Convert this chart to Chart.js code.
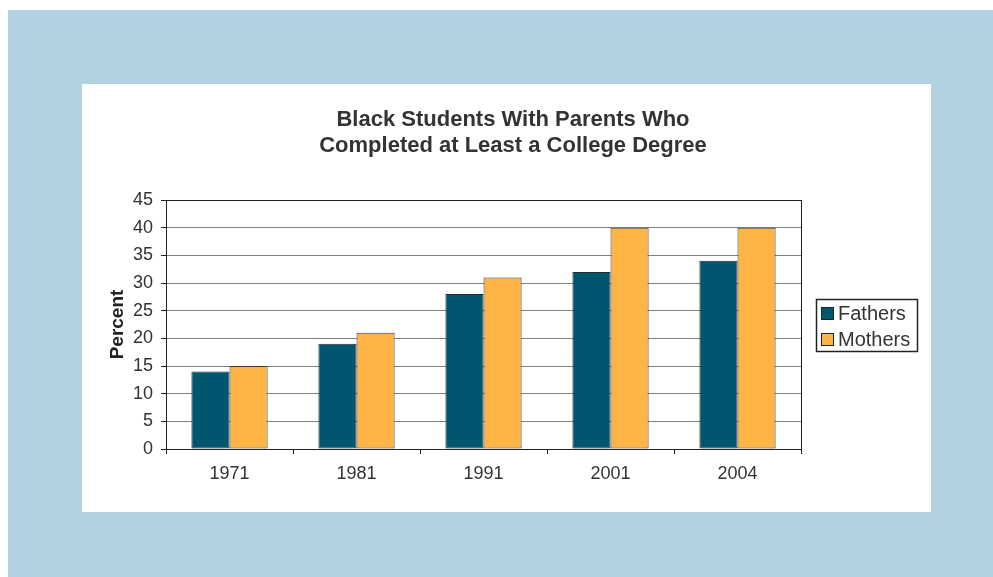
<!DOCTYPE html>
<html>
<head>
<meta charset="utf-8">
<script src="https://cdn.jsdelivr.net/npm/chart.js@4/dist/chart.umd.min.js"></script>
<style>
  html, body { margin: 0; padding: 0; background: #ffffff; }
  canvas { display: block; }
</style>
</head>
<body>
<canvas id="c" width="993" height="577"></canvas>
<script>
// ---- Data ----
const categories = ['1971', '1981', '1991', '2001', '2004'];
const fathers = [14, 19, 28, 32, 34];
const mothers = [15, 21, 31, 40, 40];
const seriesNames = ['Fathers', 'Mothers'];
const titleLines = ['Black Students With Parents Who', 'Completed at Least a College Degree'];
const yAxisTitle = 'Percent';

// ---- Styles ----
const FONT = "'Liberation Sans', Arial, Helvetica, sans-serif";
const colFathers = '#00566e';
const colMothers = '#ffb446';
const bgBlue = '#b2d2e2';

const backgroundPlugin = {
  id: 'bg',
  beforeDraw(chart) {
    const ctx = chart.ctx;
    ctx.save();
    ctx.fillStyle = '#ffffff';
    ctx.fillRect(0, 0, chart.width, chart.height);
    ctx.fillStyle = bgBlue;
    ctx.fillRect(8, 10, chart.width - 8, chart.height - 10);
    ctx.fillStyle = '#ffffff';
    ctx.fillRect(82, 84, 849, 428);
    // centred two-line title over the white panel
    ctx.fillStyle = '#333333';
    ctx.font = 'bold 22px ' + FONT;
    ctx.textAlign = 'center';
    ctx.textBaseline = 'alphabetic';
    titleLines.forEach((t, i) => ctx.fillText(t, 513, 126 + i * 26));
    ctx.restore();
  }
};

const frameAndLegendPlugin = {
  id: 'frameLegend',
  afterDatasetsDraw(chart) {
    const ctx = chart.ctx;
    const a = chart.chartArea;
    ctx.save();
    // plot-area frame
    ctx.strokeStyle = '#222222';
    ctx.lineWidth = 1;
    ctx.strokeRect(Math.round(a.left) + 0.5, Math.round(a.top) + 0.5,
                   Math.round(a.right - a.left), Math.round(a.bottom - a.top));
    // legend
    const ds = chart.data.datasets;
    const lx = Math.round(a.right) + 15;
    const rowH = 26;
    const boxW = 101, boxH = 52;
    const cy = (a.top + a.bottom) / 2;
    const ly = Math.round(cy - boxH / 2);
    ctx.lineWidth = 1.5;
    ctx.strokeStyle = '#222222';
    ctx.strokeRect(lx + 0.5, ly + 0.5, boxW, boxH);
    ctx.font = '20px ' + FONT;
    ctx.textBaseline = 'middle';
    ctx.textAlign = 'left';
    ds.forEach((d, i) => {
      const sy = ly + 8 + i * rowH;
      ctx.fillStyle = d.backgroundColor;
      ctx.fillRect(lx + 5, sy, 13, 13);
      ctx.lineWidth = 1;
      ctx.strokeStyle = '#222222';
      ctx.strokeRect(lx + 5.5, sy + 0.5, 12, 12);
      ctx.fillStyle = '#333333';
      ctx.fillText(d.label, lx + 22, sy + 7);
    });
    ctx.restore();
  }
};

new Chart(document.getElementById('c'), {
  type: 'bar',
  data: {
    labels: categories,
    datasets: [
      { label: seriesNames[0], data: fathers, backgroundColor: colFathers,
        borderColor: '#2a2a2a', borderWidth: 1, borderSkipped: false },
      { label: seriesNames[1], data: mothers, backgroundColor: colMothers,
        borderColor: '#3a3a3a', borderWidth: 1, borderSkipped: false }
    ]
  },
  options: {
    responsive: false,
    animation: false,
    devicePixelRatio: 1,
    layout: { padding: { left: 102, right: 192, top: 200, bottom: 88 } },
    datasets: { bar: { categoryPercentage: 0.6, barPercentage: 1.0 } },
    plugins: {
      legend: { display: false },
      tooltip: { enabled: false },
      title: { display: false }
    },
    scales: {
      x: {
        offset: true,
        grid: { offset: true, drawOnChartArea: false, drawTicks: true, tickLength: 5,
                color: '#222222', tickColor: '#222222' },
        border: { display: true, color: '#222222', width: 1 },
        ticks: { color: '#333333', font: { family: FONT, size: 18 }, padding: 9 },
        afterFit(scale) { scale.height = 40; }
      },
      y: {
        min: 0, max: 45,
        ticks: { stepSize: 5, color: '#333333', font: { family: FONT, size: 18 }, padding: 8 },
        grid: { color: '#808080', tickColor: '#222222', tickLength: 5, lineWidth: 1 },
        border: { display: true, color: '#222222', width: 1 },
        title: { display: true, text: yAxisTitle, color: '#222222',
                 font: { family: FONT, size: 19, weight: 'bold' }, padding: { top: 4, bottom: 0 } },
        afterFit(scale) { scale.width = 64; }
      }
    }
  },
  plugins: [backgroundPlugin, frameAndLegendPlugin]
});
</script>
</body>
</html>
